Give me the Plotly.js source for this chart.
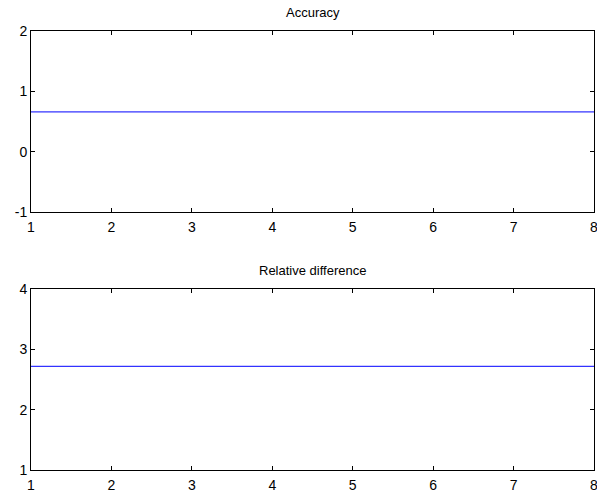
<!DOCTYPE html>
<html>
<head>
<meta charset="utf-8">
<script src="https://cdn.plot.ly/plotly-3.0.1.min.js"></script>
<style>
  html, body { margin: 0; padding: 0; background: #fff; }
  #chart { width: 597px; height: 495px; }
</style>
</head>
<body>
<div id="chart"></div>
<script>
// Iteration index shared by both panels
const iterations = [1, 2, 3, 4, 5, 6, 7, 8];
// Accuracy per iteration
const accuracy = [0.66, 0.66, 0.66, 0.66, 0.66, 0.66, 0.66, 0.66];
// Relative difference per iteration
const relativeDifference = [2.72, 2.72, 2.72, 2.72, 2.72, 2.72, 2.72, 2.72];

const xTicks = [1, 2, 3, 4, 5, 6, 7, 8];
const xTickText = ['1', '2', '3', '4', '5', '6', '7', '8'];
const accTicks = [-1, 0, 1, 2];
const accTickText = ['-1', '0', '1', '2'];
const relTicks = [1, 2, 3, 4];
const relTickText = ['1', '2', '3', '4'];
const panelTitles = ['Accuracy', 'Relative difference'];

const family = 'Liberation Sans, Arial, sans-serif';
const tickFont = { family: family, size: 14, color: '#000' };
const titleFont = { family: family, size: 13, color: '#000' };

function axisStyle(extra) {
  return Object.assign({
    showline: true, linecolor: '#000', linewidth: 1, mirror: 'ticks',
    ticks: 'inside', ticklen: 4, tickwidth: 1, tickcolor: '#000',
    showgrid: false, zeroline: false, automargin: false,
    ticklabeloverflow: 'allow', tickfont: tickFont
  }, extra);
}

const traces = [
  { x: iterations, y: accuracy, type: 'scatter', mode: 'lines',
    line: { color: '#0000ff', width: 1 }, xaxis: 'x', yaxis: 'y', hoverinfo: 'skip' },
  { x: iterations, y: relativeDifference, type: 'scatter', mode: 'lines',
    line: { color: '#0000ff', width: 1 }, xaxis: 'x2', yaxis: 'y2', hoverinfo: 'skip' }
];

const topDomain = [0.5873, 1];
const bottomDomain = [0, 0.412];

const layout = {
  width: 597, height: 495,
  margin: { l: 31, r: 3, t: 31, b: 25 },
  paper_bgcolor: '#fff', plot_bgcolor: '#fff',
  showlegend: false,
  font: tickFont,
  xaxis: axisStyle({ range: [1, 8], tickvals: xTicks, ticktext: xTickText, domain: [0, 1], anchor: 'y', ticklabelstandoff: 2 }),
  yaxis: axisStyle({ range: [-1, 2], tickvals: accTicks, ticktext: accTickText, domain: topDomain, anchor: 'x', ticklabelstandoff: 0 }),
  xaxis2: axisStyle({ range: [1, 8], tickvals: xTicks, ticktext: xTickText, domain: [0, 1], anchor: 'y2', ticklabelstandoff: 2 }),
  yaxis2: axisStyle({ range: [1, 4], tickvals: relTicks, ticktext: relTickText, domain: bottomDomain, anchor: 'x2', ticklabelstandoff: 0 }),
  annotations: [
    { text: panelTitles[0], xref: 'paper', yref: 'paper', x: 0.5, y: topDomain[1],
      xanchor: 'center', yanchor: 'bottom', yshift: 9, showarrow: false, font: titleFont },
    { text: panelTitles[1], xref: 'paper', yref: 'paper', x: 0.5, y: bottomDomain[1],
      xanchor: 'center', yanchor: 'bottom', yshift: 9, showarrow: false, font: titleFont }
  ]
};

Plotly.newPlot('chart', traces, layout, { staticPlot: true, displayModeBar: false });
</script>
</body>
</html>
